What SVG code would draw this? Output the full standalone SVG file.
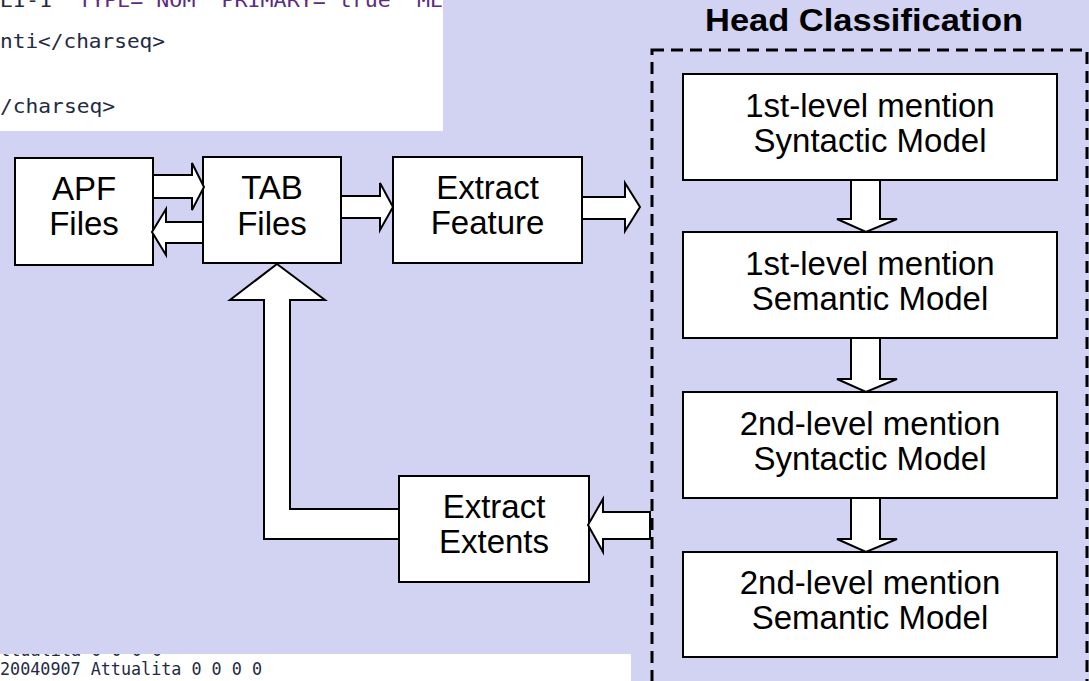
<svg xmlns="http://www.w3.org/2000/svg" width="1089" height="681" viewBox="0 0 1089 681">
  <defs>
    <style>
      .box { fill: #ffffff; stroke: #000000; stroke-width: 2; }
      .lbl { font-family: "Liberation Sans", Arial, sans-serif; font-size: 33px; fill: #000000; text-anchor: middle; }
      .title { font-family: "Liberation Sans", Arial, sans-serif; font-size: 31px; font-weight: bold; fill: #000000; text-anchor: middle; }
      .arrow { fill: #ffffff; stroke: #000000; stroke-width: 2; stroke-linejoin: miter; }
      .code { font-family: "DejaVu Sans Mono", "Liberation Mono", monospace; fill: #1f2a44; }
      .attr { fill: #5b2b86; }
      .dash { fill: none; stroke: #000000; stroke-width: 3; stroke-dasharray: 12 7; }
    </style>
    <clipPath id="clipBottom">
      <rect x="0" y="654" width="631" height="27"/>
    </clipPath>
  </defs>

  <rect x="0" y="0" width="1089" height="681" fill="#D2D2F2"/>

  <g id="code-snippet-top">
    <rect x="0" y="0" width="443" height="131" fill="#ffffff"/>
    <text class="code" x="0" y="7" font-size="20" textLength="443" lengthAdjust="spacingAndGlyphs">EI-1" <tspan class="attr">TYPE="NOM" PRIMARY="true" ME</tspan></text>
    <text class="code" x="0" y="48" font-size="20" textLength="165" lengthAdjust="spacingAndGlyphs">nti&lt;/charseq&gt;</text>
    <text class="code" x="0" y="113" font-size="20" textLength="115" lengthAdjust="spacingAndGlyphs">/charseq&gt;</text>
  </g>

  <g id="code-snippet-bottom">
    <rect x="0" y="654" width="631" height="27" fill="#ffffff"/>
    <g clip-path="url(#clipBottom)">
      <text class="code" x="0" y="656" font-size="18" textLength="162" lengthAdjust="spacingAndGlyphs">ttualita 0 0 0 0</text>
      <text class="code" x="0" y="675" font-size="18" textLength="262" lengthAdjust="spacingAndGlyphs">20040907 Attualita 0 0 0 0</text>
    </g>
  </g>

  <g id="apf-files">
    <rect class="box" x="15" y="158" width="138" height="107"/>
    <text class="lbl" x="84" y="200">APF</text>
    <text class="lbl" x="84" y="235">Files</text>
  </g>

  <g id="tab-files">
    <rect class="box" x="203" y="157" width="138" height="106"/>
    <text class="lbl" x="272" y="199">TAB</text>
    <text class="lbl" x="272" y="235">Files</text>
  </g>

  <g id="extract-feature">
    <rect class="box" x="393" y="157" width="189" height="106"/>
    <text class="lbl" x="487.5" y="199">Extract</text>
    <text class="lbl" x="487.5" y="234">Feature</text>
  </g>

  <g id="extract-extents">
    <rect class="box" x="399" y="476" width="190" height="106"/>
    <text class="lbl" x="494" y="518">Extract</text>
    <text class="lbl" x="494" y="553">Extents</text>
  </g>

  <g id="head-classification">
    <text class="title" x="864" y="31" textLength="318" lengthAdjust="spacingAndGlyphs">Head Classification</text>
    <rect class="dash" x="652" y="50" width="435" height="660"/>
  </g>

  <g id="hc-1st-syntactic">
    <rect class="box" x="683" y="74" width="374" height="106"/>
    <text class="lbl" x="870" y="117">1st-level mention</text>
    <text class="lbl" x="870" y="152">Syntactic Model</text>
  </g>

  <g id="hc-1st-semantic">
    <rect class="box" x="683" y="232" width="374" height="106"/>
    <text class="lbl" x="870" y="275">1st-level mention</text>
    <text class="lbl" x="870" y="310">Semantic Model</text>
  </g>

  <g id="hc-2nd-syntactic">
    <rect class="box" x="683" y="392" width="374" height="106"/>
    <text class="lbl" x="870" y="435">2nd-level mention</text>
    <text class="lbl" x="870" y="470">Syntactic Model</text>
  </g>

  <g id="hc-2nd-semantic">
    <rect class="box" x="683" y="552" width="374" height="105"/>
    <text class="lbl" x="870" y="594">2nd-level mention</text>
    <text class="lbl" x="870" y="629">Semantic Model</text>
  </g>

  <g id="connectors">
    <!-- APF -> TAB -->
    <polygon class="arrow" points="153,175 192,175 192,163 204,187 192,210 192,198 153,198"/>
    <!-- TAB -> APF -->
    <polygon class="arrow" points="203,222 166,222 166,209 152,232 166,255 166,243 203,243"/>
    <!-- TAB -> Extract Feature -->
    <polygon class="arrow" points="341,196 380,196 380,183 393,207 380,230 380,218 341,218"/>
    <!-- Extract Feature -> Head Classification -->
    <polygon class="arrow" points="582,197 625,197 625,183 640,207 625,231 625,219 582,219"/>
    <!-- Head Classification -> Extract Extents -->
    <polygon class="arrow" points="650,512 603,512 603,499 588,525 603,552 603,539 650,539"/>
    <!-- Extract Extents -> TAB (L-shaped) -->
    <polygon class="arrow" points="277,264 325,300 290,300 290,509 399,509 399,539 264,539 264,300 230,300"/>
    <!-- down arrows in Head Classification -->
    <polygon class="arrow" points="851,180 880,180 880,219 897,219 866,232 837,219 851,219"/>
    <polygon class="arrow" points="851,338 880,338 880,379 897,379 866,392 837,379 851,379"/>
    <polygon class="arrow" points="851,498 880,498 880,539 897,539 866,552 837,539 851,539"/>
  </g>
</svg>
